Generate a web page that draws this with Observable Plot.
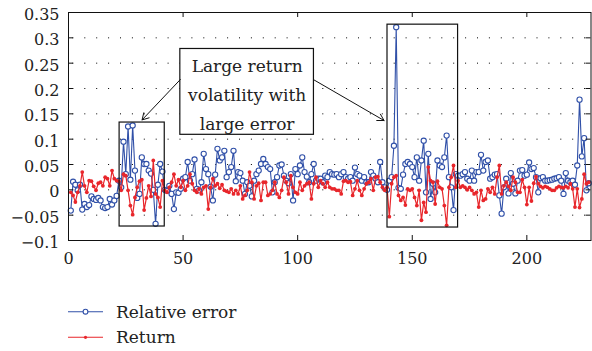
<!DOCTYPE html>
<html>
<head>
<meta charset="utf-8">
<script src="https://cdn.jsdelivr.net/npm/d3@7"></script>
<script src="https://cdn.jsdelivr.net/npm/@observablehq/plot@0.6"></script>
<style>
  body { margin: 0; background: #fff; }
  #chart { width: 592px; height: 351px; font-family: "DejaVu Serif", serif; }
  #chart svg { display: block; }
</style>
</head>
<body>
<div id="chart"></div>
<script>
// Relative error of the model, one value per trading day (1..227)
const relativeError = [
  -0.041, 0.016, 0.010, -0.001, 0.010, -0.039, -0.028, -0.034, -0.030, -0.013,
  -0.018, -0.020, -0.016, -0.021, -0.034, -0.036, -0.034, -0.018, -0.029, -0.021,
  -0.012, 0.018, 0.005, 0.095, 0.031, 0.125, 0.020, 0.127, 0.038, -0.016,
  -0.008, 0.064, 0.051, 0.051, 0.038, 0.032, 0.000, -0.067, 0.010, 0.051,
  0.036, 0.000, -0.002, 0.008, -0.008, -0.038, -0.005, -0.006, 0.002, 0.022,
  0.025, 0.055, 0.018, 0.031, 0.060, 0.002, -0.001, 0.015, 0.071, 0.041,
  0.031, 0.006, -0.021, 0.030, 0.081, 0.058, 0.064, 0.077, 0.025, 0.035,
  0.045, 0.077, 0.017, 0.035, 0.033, 0.018, -0.008, 0.015, 0.008, -0.013,
  0.018, 0.031, 0.038, 0.051, 0.061, 0.051, 0.045, 0.041, -0.005, 0.015,
  0.025, 0.048, 0.050, 0.028, 0.018, 0.013, 0.031, -0.021, 0.041, 0.031,
  0.048, 0.064, 0.035, 0.026, 0.015, 0.031, 0.051, 0.018, 0.022, 0.022,
  0.015, 0.028, 0.025, 0.035, 0.031, 0.030, 0.031, 0.025, 0.031, 0.035,
  0.025, 0.022, 0.025, 0.018, 0.044, 0.031, 0.028, 0.018, 0.025, 0.015,
  0.015, 0.035, 0.028, 0.022, 0.015, 0.055, 0.015, 0.005, 0.000, 0.018,
  0.025, 0.087, 0.321, 0.004, 0.002, 0.030, 0.051, 0.055, 0.051, 0.045,
  0.025, 0.064, 0.018, 0.058, 0.097, -0.005, 0.071, -0.018, 0.012, -0.005,
  0.058, 0.048, 0.045, 0.064, 0.107, 0.025, 0.005, -0.040, 0.031, 0.028,
  0.028, 0.031, 0.035, 0.022, 0.018, 0.038, 0.018, 0.035, 0.035, 0.069,
  0.038, 0.055, 0.058, 0.022, 0.025, 0.030, 0.031, -0.011, -0.047, 0.005,
  0.022, -0.007, 0.033, 0.012, -0.007, 0.018, 0.038, 0.039, 0.028, 0.030,
  0.054, 0.041, 0.043, 0.025, -0.005, 0.023, 0.025, 0.018, 0.018, 0.019,
  0.020, 0.022, 0.023, 0.025, 0.018, -0.008, 0.033, 0.018, 0.015, 0.018,
  0.010, 0.048, 0.178, 0.066, 0.102, -0.001, 0.013
];

// Daily return over the same days
const dailyReturn = [
  -0.005, -0.011, -0.024, -0.005, 0.008, 0.035, 0.008, -0.005, 0.018, 0.017,
  0.007, -0.001, 0.013, 0.015, 0.008, 0.025, 0.022, 0.008, 0.038, 0.022,
  0.018, 0.017, -0.001, 0.031, 0.028, -0.001, -0.031, -0.049, -0.015, 0.005,
  0.017, 0.020, -0.040, -0.016, 0.008, -0.013, 0.058, -0.008, -0.015, -0.034,
  0.018, -0.001, -0.005, 0.005, 0.015, 0.031, 0.008, 0.020, 0.005, 0.018,
  -0.001, 0.008, 0.031, 0.012, -0.001, -0.005, 0.002, -0.008, 0.005, 0.008,
  -0.038, 0.005, 0.022, 0.008, 0.012, 0.003, 0.010, -0.001, -0.003, -0.005,
  0.002, -0.008, -0.001, -0.008, 0.008, -0.018, -0.011, -0.001, 0.035, 0.015,
  -0.018, 0.008, 0.013, -0.021, 0.015, 0.015, -0.011, -0.008, -0.001, 0.015,
  -0.008, -0.015, -0.001, 0.025, 0.015, -0.008, 0.028, 0.005, -0.005, -0.008,
  0.015, -0.001, 0.008, 0.012, 0.015, -0.018, 0.012, 0.025, 0.005, 0.018,
  0.012, 0.005, 0.015, 0.005, 0.002, 0.002, -0.001, -0.001, -0.008, 0.017,
  0.018, 0.015, 0.016, -0.011, 0.002, 0.018, -0.001, -0.011, 0.002, 0.012,
  0.015, 0.022, -0.001, 0.025, 0.026, 0.015, 0.005, -0.001, 0.005, -0.053,
  0.012, 0.025, 0.028, -0.011, -0.021, -0.015, -0.030, 0.002, -0.001, 0.002,
  -0.015, -0.031, -0.001, -0.060, -0.025, -0.044, 0.045, 0.018, 0.015, -0.028,
  0.017, 0.005, 0.002, -0.031, -0.070, 0.005, 0.025, 0.048, 0.005, 0.018,
  0.005, 0.008, 0.005, 0.000, 0.005, -0.001, -0.008, -0.005, -0.034, -0.001,
  -0.021, -0.018, 0.002, -0.005, 0.005, -0.008, 0.025, 0.048, -0.008, 0.008,
  0.015, 0.007, -0.001, 0.025, 0.015, -0.005, -0.005, 0.020, 0.005, -0.029,
  0.005, -0.022, 0.013, 0.026, 0.012, 0.007, 0.004, 0.007, 0.005, 0.002,
  -0.001, -0.001, 0.004, 0.007, 0.005, 0.004, 0.007, 0.004, 0.012, 0.002,
  -0.034, 0.002, -0.035, -0.018, 0.031, 0.012, 0.015
];

const seriesNames = ["Relative error", "Return"];

const xTicks = [0, 50, 100, 150, 200];
const xTickLabels = ["0", "50", "100", "150", "200"];
const yTicks = [0.35, 0.3, 0.25, 0.2, 0.15, 0.1, 0.05, 0, -0.05, -0.1];
const yTickLabels = ["0.35", "0.3", "0.25", "0.2", "0.15", "0.1", "0.05", "0", "\u22120.05", "\u22120.1"];
const gridLevels = [0.3, 0.25, 0.2, 0.15, 0.1, 0.05, 0, -0.05];

// Periods of large return volatility (day range, value range)
const highlightBoxes = [
  { x1: 22.3, x2: 42.0, y1: -0.0724, y2: 0.1328 },
  { x1: 139.2, x2: 170.0, y1: -0.0744, y2: 0.326 }
];

// Callout and its pointers to the highlighted periods
const noteBox = [{ x1: 48.8, x2: 107.1, y1: 0.1086, y2: 0.278, label: "Large return\nvolatility with\nlarge error" }];
const notePointers = [
  { x1: 48.8, y1: 0.2177, x2: 32.1, y2: 0.138 },
  { x1: 107.1, y1: 0.217, x2: 137.7, y2: 0.1368 }
];

const BLUE = "#3050a8";
const RED = "#e8262b";
const FONT = '"DejaVu Serif", serif';

const errRows = relativeError.map((v, i) => ({ day: i + 1, value: v }));
const retRows = dailyReturn.map((v, i) => ({ day: i + 1, value: v }));

const W = 592, H = 270, MT = 12, MB = 30, ML = 68, MR = 1.5;
const innerW = W - ML - MR, innerH = H - MT - MB;

const chart = Plot.plot({
  width: W,
  height: H,
  marginTop: MT,
  marginBottom: MB,
  marginLeft: ML,
  marginRight: MR,
  style: { fontFamily: FONT, fontSize: "16px", color: "#222", background: "#fff" },
  x: { domain: [0, 228], axis: null },
  y: { domain: [-0.1, 0.35], axis: null },
  marks: [
    Plot.ruleY(gridLevels, { stroke: "#000", strokeWidth: 1, strokeDasharray: "1,10.9", strokeDashoffset: 7.5 }),
    Plot.rect(noteBox, { x1: "x1", x2: "x2", y1: "y1", y2: "y2", fill: "#fff", stroke: "#111", strokeWidth: 1.2 }),
    Plot.text(noteBox, {
      x: d => (d.x1 + d.x2) / 2, y: d => (d.y1 + d.y2) / 2, text: "label",
      fontSize: 17, lineHeight: 1.68, fill: "#222", fontFamily: FONT
    }),
    Plot.line(errRows, { x: "day", y: "value", stroke: BLUE, strokeWidth: 1.1 }),
    Plot.dot(errRows, { x: "day", y: "value", r: 2.6, stroke: BLUE, fill: "#fff", strokeWidth: 1.1 }),
    Plot.line(retRows, { x: "day", y: "value", stroke: RED, strokeWidth: 1.2 }),
    Plot.dot(retRows, { x: "day", y: "value", r: 1.9, fill: RED, stroke: null }),
    Plot.rect(highlightBoxes, { x1: "x1", x2: "x2", y1: "y1", y2: "y2", fill: "none", stroke: "#111", strokeWidth: 1.2 }),
    Plot.arrow(notePointers, { x1: "x1", y1: "y1", x2: "x2", y2: "y2", stroke: "#111", strokeWidth: 1, headLength: 11 }),
    // inward ticks on all four sides
    Plot.tickX(xTicks, { x: d => d, insetTop: innerH - 5, stroke: "#111" }),
    Plot.tickX(xTicks, { x: d => d, insetBottom: innerH - 5, stroke: "#111" }),
    Plot.tickY(yTicks, { y: d => d, insetRight: innerW - 5, stroke: "#111" }),
    Plot.tickY(yTicks, { y: d => d, insetLeft: innerW - 5, stroke: "#111" }),
    Plot.frame({ stroke: "#111", strokeWidth: 1 }),
    Plot.axisX(xTicks, {
      tickSize: 0, tickPadding: 12.5, fontSize: 16, fill: "#222",
      tickFormat: d => xTickLabels[xTicks.indexOf(d)]
    }),
    Plot.axisY(yTicks, {
      tickSize: 0, tickPadding: 9, fontSize: 16, fill: "#222", dy: 2.5,
      tickFormat: d => yTickLabels[yTicks.indexOf(d)]
    })
  ]
});

const root = document.getElementById("chart");
root.appendChild(chart);

// Legend below the plot
const legend = d3.create("svg")
  .attr("width", W)
  .attr("height", 351 - H)
  .style("font-family", FONT)
  .style("font-size", "17px");

const items = [
  { name: seriesNames[0], color: BLUE, open: true, y: 41.7 },
  { name: seriesNames[1], color: RED, open: false, y: 67.3 }
];
const g = legend.selectAll("g").data(items).join("g")
  .attr("transform", d => `translate(0,${d.y})`);
g.append("line")
  .attr("x1", 68).attr("x2", 103)
  .attr("stroke", d => d.color).attr("stroke-width", 1.1);
g.append("circle")
  .attr("cx", 85.5)
  .attr("r", d => d.open ? 2.4 : 1.6)
  .attr("fill", d => d.open ? "#fff" : d.color)
  .attr("stroke", d => d.open ? d.color : "none")
  .attr("stroke-width", 1.1);
g.append("text")
  .attr("x", 116).attr("y", 5.8)
  .attr("fill", "#222")
  .text(d => d.name);

root.appendChild(legend.node());
</script>
</body>
</html>
